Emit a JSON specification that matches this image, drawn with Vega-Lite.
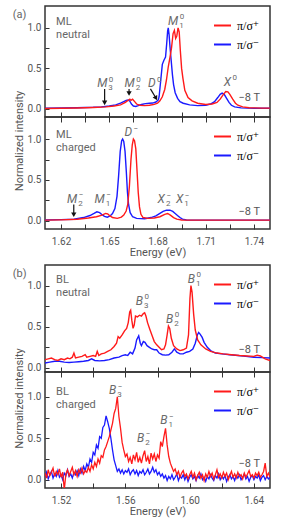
{
"$schema": "https://vega.github.io/schema/vega-lite/v6.json",
"padding": {"left": 12, "top": 5, "right": 5, "bottom": 5},
"vconcat": [
 {"width": 225, "height": 111,
  "encoding": {
   "x": {"field": "E", "type": "quantitative", "scale": {"domain": [1.61, 1.75], "nice": false, "zero": false}, "axis": {"orient": "bottom", "values": [1.62,1.635,1.65,1.665,1.68,1.695,1.71,1.725,1.74], "labels": false, "title": null, "offset": 5, "tickSize": -10}},
   "y": {"field": "I", "type": "quantitative", "scale": {"domain": [-0.1, 1.27], "nice": false, "zero": false}, "axis": {"orient": "left", "values": [0,0.25,0.5,0.75,1], "tickSize": -4, "labelPadding": 8, "labelExpr": "indexof(['0.0','0.5','1.0'], format(datum.value,'.1f')) >= 0 ? format(datum.value,'.1f') : ''", "title": "Normalized intensity", "titleX": -26, "titleY": 134.5, "titleAngle": -90, "titleAlign": "center", "titleBaseline": "middle"}}
  },
  "layer": [
   {"data": {"name": "mln"}, "mark": {"type": "line", "strokeWidth": 1.4, "clip": true},
    "encoding": {"color": {"field": "s", "type": "nominal", "scale": {"domain": ["+", "-"], "range": ["#ff1a1a", "#1a1aff"]}, "legend": {"title": null, "labelExpr": "datum.label == '+' ? 'π/σ⁺' : 'π/σ⁻'"}}}},
   {"data": {"name": "ann1"}, "mark": {"type": "text", "align": "right", "baseline": "alphabetic", "fontStyle": "italic", "fontSize": 12, "color": "#6a6a6a"}, "encoding": {"text": {"field": "b"}}},
   {"data": {"name": "ann1"}, "mark": {"type": "text", "align": "left", "baseline": "alphabetic", "dx": 1.5, "dy": -5.5, "fontSize": 8, "color": "#6a6a6a"}, "encoding": {"text": {"field": "sup"}}},
   {"data": {"name": "ann1"}, "mark": {"type": "text", "align": "left", "baseline": "alphabetic", "dx": 1, "dy": 3, "fontSize": 8, "color": "#6a6a6a"}, "encoding": {"text": {"field": "sub"}}},
   {"data": {"name": "names1"}, "mark": {"type": "text", "align": "left", "baseline": "alphabetic", "fontSize": 11, "lineBreak": "\n", "lineHeight": 13, "color": "#666"}, "encoding": {"text": {"field": "t"}}},
   {"data": {"name": "fld1"}, "mark": {"type": "text", "align": "right", "baseline": "alphabetic", "fontSize": 11, "color": "#555"}, "encoding": {"text": {"field": "t"}}},
   {"data": {"name": "arr1"}, "mark": {"type": "rule", "color": "#111", "strokeWidth": 1.2}, "encoding": {"x2": {"field": "E2"}, "y2": {"field": "I2"}}},
   {"data": {"name": "head1"}, "mark": {"type": "point", "shape": "triangle-down", "filled": true, "color": "#111", "size": 28, "opacity": 1}},
   {"data": {"name": "headD"}, "mark": {"type": "point", "shape": "triangle-down", "filled": true, "color": "#111", "size": 28, "opacity": 1, "angle": -30}}
  ]},
 {"width": 225, "height": 112,
  "encoding": {
   "x": {"field": "E", "type": "quantitative", "scale": {"domain": [1.61, 1.75], "nice": false, "zero": false}, "axis": {"orient": "bottom", "values": [1.62,1.635,1.65,1.665,1.68,1.695,1.71,1.725,1.74], "tickSize": -5, "labelPadding": 12, "labelExpr": "indexof(['1.62','1.65','1.68','1.71','1.74'], format(datum.value,'.2f')) >= 0 ? format(datum.value,'.2f') : ''", "title": "Energy (eV)", "titleY": 26, "titleBaseline": "alphabetic"}},
   "y": {"field": "I", "type": "quantitative", "scale": {"domain": [-0.1, 1.27], "nice": false, "zero": false}, "axis": {"orient": "left", "values": [0,0.25,0.5,0.75,1], "tickSize": -4, "labelPadding": 8, "labelExpr": "indexof(['0.0','0.5','1.0'], format(datum.value,'.1f')) >= 0 ? format(datum.value,'.1f') : ''", "title": null}}
  },
  "layer": [
   {"data": {"name": "mlc"}, "mark": {"type": "line", "strokeWidth": 1.4, "clip": true},
    "encoding": {"color": {"field": "s", "type": "nominal", "scale": {"domain": ["+", "-"], "range": ["#ff1a1a", "#1a1aff"]}, "legend": {"title": null, "labelExpr": "datum.label == '+' ? 'π/σ⁺' : 'π/σ⁻'"}}}},
   {"data": {"name": "ann2"}, "mark": {"type": "text", "align": "right", "baseline": "alphabetic", "fontStyle": "italic", "fontSize": 12, "color": "#6a6a6a"}, "encoding": {"text": {"field": "b"}}},
   {"data": {"name": "ann2"}, "mark": {"type": "text", "align": "left", "baseline": "alphabetic", "dx": 1.5, "dy": -5.5, "fontSize": 8, "color": "#6a6a6a"}, "encoding": {"text": {"field": "sup"}}},
   {"data": {"name": "ann2"}, "mark": {"type": "text", "align": "left", "baseline": "alphabetic", "dx": 1, "dy": 3, "fontSize": 8, "color": "#6a6a6a"}, "encoding": {"text": {"field": "sub"}}},
   {"data": {"name": "names2"}, "mark": {"type": "text", "align": "left", "baseline": "alphabetic", "fontSize": 11, "lineBreak": "\n", "lineHeight": 13, "color": "#666"}, "encoding": {"text": {"field": "t"}}},
   {"data": {"name": "fld2"}, "mark": {"type": "text", "align": "right", "baseline": "alphabetic", "fontSize": 11, "color": "#555"}, "encoding": {"text": {"field": "t"}}},
   {"data": {"name": "arr2"}, "mark": {"type": "rule", "color": "#111", "strokeWidth": 1.2}, "encoding": {"x2": {"field": "E2"}, "y2": {"field": "I2"}}},
   {"data": {"name": "head2"}, "mark": {"type": "point", "shape": "triangle-down", "filled": true, "color": "#111", "size": 28, "opacity": 1}}
  ]},
 {"width": 225, "height": 36, "data": {"values": [{"a": 1}]}, "mark": {"type": "point", "opacity": 0}, "view": {"stroke": null}},
 {"width": 225, "height": 107,
  "encoding": {
   "x": {"field": "E", "type": "quantitative", "scale": {"domain": [1.51, 1.65], "nice": false, "zero": false}, "axis": {"orient": "bottom", "values": [1.52,1.54,1.56,1.58,1.6,1.62,1.64], "labels": false, "title": null, "offset": 5, "tickSize": -10}},
   "y": {"field": "I", "type": "quantitative", "scale": {"domain": [-0.05, 1.25], "nice": false, "zero": false}, "axis": {"orient": "left", "values": [0,0.25,0.5,0.75,1], "tickSize": -4, "labelPadding": 8, "labelExpr": "indexof(['0.0','0.5','1.0'], format(datum.value,'.1f')) >= 0 ? format(datum.value,'.1f') : ''", "title": "Normalized intensity", "titleX": -26, "titleY": 133, "titleAngle": -90, "titleAlign": "center", "titleBaseline": "middle"}}
  },
  "layer": [
   {"data": {"name": "bln"}, "mark": {"type": "line", "strokeWidth": 1.4, "clip": true},
    "encoding": {"color": {"field": "s", "type": "nominal", "scale": {"domain": ["+", "-"], "range": ["#ff1a1a", "#1a1aff"]}, "legend": {"title": null, "labelExpr": "datum.label == '+' ? 'π/σ⁺' : 'π/σ⁻'"}}}},
   {"data": {"name": "ann3"}, "mark": {"type": "text", "align": "right", "baseline": "alphabetic", "fontStyle": "italic", "fontSize": 12, "color": "#6a6a6a"}, "encoding": {"text": {"field": "b"}}},
   {"data": {"name": "ann3"}, "mark": {"type": "text", "align": "left", "baseline": "alphabetic", "dx": 1.5, "dy": -5.5, "fontSize": 8, "color": "#6a6a6a"}, "encoding": {"text": {"field": "sup"}}},
   {"data": {"name": "ann3"}, "mark": {"type": "text", "align": "left", "baseline": "alphabetic", "dx": 1, "dy": 3, "fontSize": 8, "color": "#6a6a6a"}, "encoding": {"text": {"field": "sub"}}},
   {"data": {"name": "names3"}, "mark": {"type": "text", "align": "left", "baseline": "alphabetic", "fontSize": 11, "lineBreak": "\n", "lineHeight": 13, "color": "#666"}, "encoding": {"text": {"field": "t"}}},
   {"data": {"name": "fld3"}, "mark": {"type": "text", "align": "right", "baseline": "alphabetic", "fontSize": 11, "color": "#555"}, "encoding": {"text": {"field": "t"}}}
  ]},
 {"width": 225, "height": 116,
  "encoding": {
   "x": {"field": "E", "type": "quantitative", "scale": {"domain": [1.51, 1.65], "nice": false, "zero": false}, "axis": {"orient": "bottom", "values": [1.52,1.54,1.56,1.58,1.6,1.62,1.64], "tickSize": -5, "labelPadding": 12, "labelExpr": "indexof(['1.52','1.56','1.60','1.64'], format(datum.value,'.2f')) >= 0 ? format(datum.value,'.2f') : ''", "title": "Energy (eV)", "titleY": 26, "titleBaseline": "alphabetic"}},
   "y": {"field": "I", "type": "quantitative", "scale": {"domain": [-0.1, 1.3], "nice": false, "zero": false}, "axis": {"orient": "left", "values": [0,0.25,0.5,0.75,1], "tickSize": -4, "labelPadding": 8, "labelExpr": "indexof(['0.0','0.5','1.0'], format(datum.value,'.1f')) >= 0 ? format(datum.value,'.1f') : ''", "title": null}}
  },
  "layer": [
   {"data": {"name": "blc"}, "mark": {"type": "line", "strokeWidth": 1.3, "clip": true},
    "encoding": {"color": {"field": "s", "type": "nominal", "scale": {"domain": ["+", "-"], "range": ["#ff1a1a", "#1a1aff"]}, "legend": {"title": null, "labelExpr": "datum.label == '+' ? 'π/σ⁺' : 'π/σ⁻'"}}}},
   {"data": {"name": "ann4"}, "mark": {"type": "text", "align": "right", "baseline": "alphabetic", "fontStyle": "italic", "fontSize": 12, "color": "#6a6a6a"}, "encoding": {"text": {"field": "b"}}},
   {"data": {"name": "ann4"}, "mark": {"type": "text", "align": "left", "baseline": "alphabetic", "dx": 1.5, "dy": -5.5, "fontSize": 8, "color": "#6a6a6a"}, "encoding": {"text": {"field": "sup"}}},
   {"data": {"name": "ann4"}, "mark": {"type": "text", "align": "left", "baseline": "alphabetic", "dx": 1, "dy": 3, "fontSize": 8, "color": "#6a6a6a"}, "encoding": {"text": {"field": "sub"}}},
   {"data": {"name": "names4"}, "mark": {"type": "text", "align": "left", "baseline": "alphabetic", "fontSize": 11, "lineBreak": "\n", "lineHeight": 13, "color": "#666"}, "encoding": {"text": {"field": "t"}}},
   {"data": {"name": "fld4"}, "mark": {"type": "text", "align": "right", "baseline": "alphabetic", "fontSize": 11, "color": "#555"}, "encoding": {"text": {"field": "t"}}}
  ]}
],
"spacing": 0,
"bounds": "flush",
"resolve": {"scale": {"color": "independent"}, "legend": {"color": "independent"}},
"config": {
 "font": "Roboto",
 "view": {"stroke": "#333", "strokeWidth": 1.5},
 "text": {"font": "Roboto"},
 "axis": {"domain": false, "grid": false, "tickColor": "#333", "tickWidth": 1, "labelColor": "#555", "labelFont": "Roboto", "labelFontSize": 10, "labelFlush": false, "titleColor": "#555", "titleFont": "Roboto", "titleFontSize": 11, "titleFontWeight": "normal"},
 "legend": {"orient": "top-right", "offset": 10, "padding": 0, "symbolType": "stroke", "symbolSize": 289, "symbolStrokeWidth": 2, "labelFont": "Liberation Serif, DejaVu Serif", "labelFontSize": 12, "labelColor": "#000", "rowPadding": 3, "labelOffset": 5}
},
"datasets": {
 "ann1": [{"E":1.6488,"I":0.27,"b":"M","sub":"3","sup":"0"},{"E":1.6658,"I":0.27,"b":"M","sub":"2","sup":"0"},{"E":1.6788,"I":0.27,"b":"D","sub":"","sup":"0"},{"E":1.6929,"I":1.037,"b":"M","sub":"1","sup":"0"},{"E":1.7258,"I":0.284,"b":"X","sub":"","sup":"0"}],
 "names1": [{"E":1.59,"I":1.123,"t":"(a)"},{"E":1.6169,"I":1.037,"t":"ML\nneutral"}],
 "fld1": [{"E":1.7438,"I":0.099,"t":"−8 T"}],
 "arr1": [{"E":1.6471,"I":0.245,"E2":1.6471,"I2":0.074},{"E":1.6623,"I":0.247,"E2":1.6623,"I2":0.19},{"E":1.6756,"I":0.247,"E2":1.6791,"I2":0.131}],
 "head1": [{"E":1.6471,"I":0.074},{"E":1.6623,"I":0.19}],
 "headD": [{"E":1.6791,"I":0.131}],
 "ann2": [{"E":1.630,"I":0.221,"b":"M","sub":"2","sup":"−"},{"E":1.6471,"I":0.221,"b":"M","sub":"1","sup":"−"},{"E":1.6642,"I":1.037,"b":"D","sub":"","sup":"−"},{"E":1.6846,"I":0.214,"b":"X","sub":"2","sup":"−"},{"E":1.696,"I":0.214,"b":"X","sub":"1","sup":"−"}],
 "names2": [{"E":1.6169,"I":1.017,"t":"ML\ncharged"}],
 "fld2": [{"E":1.7438,"I":0.071,"t":"−8 T"}],
 "arr2": [{"E":1.6279,"I":0.2,"E2":1.6279,"I2":0.075}],
 "head2": [{"E":1.6279,"I":0.075}],
 "ann3": [{"E":1.571,"I":0.77,"b":"B","sub":"3","sup":"0"},{"E":1.5898,"I":0.55,"b":"B","sub":"2","sup":"0"},{"E":1.6033,"I":1.035,"b":"B","sub":"1","sup":"0"}],
 "names3": [{"E":1.49,"I":1.108,"t":"(b)"},{"E":1.5169,"I":1.035,"t":"BL\nneutral"}],
 "fld3": [{"E":1.6438,"I":0.185,"t":"−8 T"}],
 "ann4": [{"E":1.5544,"I":1.031,"b":"B","sub":"3","sup":"−"},{"E":1.5717,"I":0.456,"b":"B","sub":"2","sup":"−"},{"E":1.5862,"I":0.67,"b":"B","sub":"1","sup":"−"}],
 "names4": [{"E":1.5169,"I":1.023,"t":"BL\ncharged"}],
 "fld4": [{"E":1.6438,"I":0.154,"t":"−8 T"}],
 "mln": [
{"E":1.610,"I":0.01,"s":"-"},{"E":1.620,"I":0.012,"s":"-"},{"E":1.630,"I":0.015,"s":"-"},{"E":1.640,"I":0.02,"s":"-"},{"E":1.645,"I":0.025,"s":"-"},{"E":1.650,"I":0.035,"s":"-"},{"E":1.654,"I":0.05,"s":"-"},{"E":1.657,"I":0.07,"s":"-"},{"E":1.659,"I":0.09,"s":"-"},{"E":1.6605,"I":0.105,"s":"-"},{"E":1.6617,"I":0.11,"s":"-"},{"E":1.6628,"I":0.095,"s":"-"},{"E":1.6638,"I":0.06,"s":"-"},{"E":1.665,"I":0.035,"s":"-"},{"E":1.6665,"I":0.03,"s":"-"},{"E":1.668,"I":0.04,"s":"-"},{"E":1.670,"I":0.055,"s":"-"},{"E":1.6725,"I":0.065,"s":"-"},{"E":1.675,"I":0.07,"s":"-"},{"E":1.677,"I":0.072,"s":"-"},{"E":1.679,"I":0.085,"s":"-"},{"E":1.6805,"I":0.11,"s":"-"},{"E":1.681,"I":0.15,"s":"-"},{"E":1.682,"I":0.35,"s":"-"},{"E":1.683,"I":0.55,"s":"-"},{"E":1.684,"I":0.6,"s":"-"},{"E":1.685,"I":0.64,"s":"-"},{"E":1.6857,"I":0.8,"s":"-"},{"E":1.6863,"I":0.96,"s":"-"},{"E":1.6867,"I":1.0,"s":"-"},{"E":1.6872,"I":0.92,"s":"-"},{"E":1.6878,"I":0.76,"s":"-"},{"E":1.6885,"I":0.6,"s":"-"},{"E":1.6893,"I":0.42,"s":"-"},{"E":1.690,"I":0.3,"s":"-"},{"E":1.691,"I":0.2,"s":"-"},{"E":1.6925,"I":0.13,"s":"-"},{"E":1.694,"I":0.09,"s":"-"},{"E":1.696,"I":0.07,"s":"-"},{"E":1.700,"I":0.05,"s":"-"},{"E":1.705,"I":0.04,"s":"-"},{"E":1.710,"I":0.045,"s":"-"},{"E":1.713,"I":0.06,"s":"-"},{"E":1.7155,"I":0.09,"s":"-"},{"E":1.7175,"I":0.14,"s":"-"},{"E":1.719,"I":0.18,"s":"-"},{"E":1.7202,"I":0.195,"s":"-"},{"E":1.7215,"I":0.18,"s":"-"},{"E":1.723,"I":0.13,"s":"-"},{"E":1.7245,"I":0.08,"s":"-"},{"E":1.726,"I":0.045,"s":"-"},{"E":1.728,"I":0.025,"s":"-"},{"E":1.732,"I":0.012,"s":"-"},{"E":1.740,"I":0.008,"s":"-"},{"E":1.750,"I":0.008,"s":"-"},
{"E":1.610,"I":0.005,"s":"+"},{"E":1.620,"I":0.008,"s":"+"},{"E":1.630,"I":0.012,"s":"+"},{"E":1.640,"I":0.018,"s":"+"},{"E":1.648,"I":0.025,"s":"+"},{"E":1.653,"I":0.035,"s":"+"},{"E":1.657,"I":0.05,"s":"+"},{"E":1.660,"I":0.08,"s":"+"},{"E":1.662,"I":0.11,"s":"+"},{"E":1.6628,"I":0.12,"s":"+"},{"E":1.6635,"I":0.105,"s":"+"},{"E":1.6645,"I":0.12,"s":"+"},{"E":1.6658,"I":0.09,"s":"+"},{"E":1.667,"I":0.06,"s":"+"},{"E":1.669,"I":0.045,"s":"+"},{"E":1.672,"I":0.04,"s":"+"},{"E":1.675,"I":0.045,"s":"+"},{"E":1.678,"I":0.055,"s":"+"},{"E":1.680,"I":0.07,"s":"+"},{"E":1.6815,"I":0.1,"s":"+"},{"E":1.683,"I":0.15,"s":"+"},{"E":1.6845,"I":0.24,"s":"+"},{"E":1.6856,"I":0.36,"s":"+"},{"E":1.6867,"I":0.52,"s":"+"},{"E":1.6877,"I":0.63,"s":"+"},{"E":1.6887,"I":0.75,"s":"+"},{"E":1.6897,"I":0.93,"s":"+"},{"E":1.6905,"I":0.97,"s":"+"},{"E":1.6913,"I":0.87,"s":"+"},{"E":1.692,"I":0.9,"s":"+"},{"E":1.6928,"I":1.0,"s":"+"},{"E":1.6935,"I":0.95,"s":"+"},{"E":1.6942,"I":0.72,"s":"+"},{"E":1.695,"I":0.5,"s":"+"},{"E":1.6958,"I":0.38,"s":"+"},{"E":1.697,"I":0.23,"s":"+"},{"E":1.699,"I":0.14,"s":"+"},{"E":1.7015,"I":0.1,"s":"+"},{"E":1.705,"I":0.07,"s":"+"},{"E":1.710,"I":0.055,"s":"+"},{"E":1.714,"I":0.06,"s":"+"},{"E":1.717,"I":0.08,"s":"+"},{"E":1.719,"I":0.12,"s":"+"},{"E":1.721,"I":0.18,"s":"+"},{"E":1.7225,"I":0.215,"s":"+"},{"E":1.7238,"I":0.21,"s":"+"},{"E":1.725,"I":0.18,"s":"+"},{"E":1.7268,"I":0.12,"s":"+"},{"E":1.7285,"I":0.07,"s":"+"},{"E":1.730,"I":0.045,"s":"+"},{"E":1.733,"I":0.025,"s":"+"},{"E":1.737,"I":0.015,"s":"+"},{"E":1.745,"I":0.01,"s":"+"},{"E":1.750,"I":0.01,"s":"+"}],
 "mlc": [
{"E":1.610,"I":0.01,"s":"-"},{"E":1.620,"I":0.015,"s":"-"},{"E":1.628,"I":0.02,"s":"-"},{"E":1.634,"I":0.04,"s":"-"},{"E":1.638,"I":0.065,"s":"-"},{"E":1.6405,"I":0.09,"s":"-"},{"E":1.6423,"I":0.11,"s":"-"},{"E":1.644,"I":0.1,"s":"-"},{"E":1.6455,"I":0.075,"s":"-"},{"E":1.647,"I":0.055,"s":"-"},{"E":1.6488,"I":0.045,"s":"-"},{"E":1.6505,"I":0.06,"s":"-"},{"E":1.652,"I":0.09,"s":"-"},{"E":1.6535,"I":0.15,"s":"-"},{"E":1.6548,"I":0.3,"s":"-"},{"E":1.6558,"I":0.55,"s":"-"},{"E":1.6568,"I":0.85,"s":"-"},{"E":1.6577,"I":0.98,"s":"-"},{"E":1.6583,"I":1.0,"s":"-"},{"E":1.659,"I":0.97,"s":"-"},{"E":1.6598,"I":0.85,"s":"-"},{"E":1.6606,"I":0.6,"s":"-"},{"E":1.6613,"I":0.35,"s":"-"},{"E":1.662,"I":0.2,"s":"-"},{"E":1.663,"I":0.1,"s":"-"},{"E":1.6645,"I":0.05,"s":"-"},{"E":1.667,"I":0.03,"s":"-"},{"E":1.672,"I":0.025,"s":"-"},{"E":1.676,"I":0.04,"s":"-"},{"E":1.679,"I":0.06,"s":"-"},{"E":1.6815,"I":0.09,"s":"-"},{"E":1.6835,"I":0.115,"s":"-"},{"E":1.6856,"I":0.13,"s":"-"},{"E":1.6877,"I":0.13,"s":"-"},{"E":1.6895,"I":0.115,"s":"-"},{"E":1.691,"I":0.09,"s":"-"},{"E":1.6928,"I":0.06,"s":"-"},{"E":1.694,"I":0.04,"s":"-"},{"E":1.6955,"I":0.02,"s":"-"},{"E":1.698,"I":0.01,"s":"-"},{"E":1.710,"I":0.008,"s":"-"},{"E":1.750,"I":0.008,"s":"-"},
{"E":1.610,"I":0.008,"s":"+"},{"E":1.620,"I":0.012,"s":"+"},{"E":1.630,"I":0.02,"s":"+"},{"E":1.637,"I":0.035,"s":"+"},{"E":1.642,"I":0.05,"s":"+"},{"E":1.6455,"I":0.07,"s":"+"},{"E":1.6477,"I":0.09,"s":"+"},{"E":1.649,"I":0.085,"s":"+"},{"E":1.6505,"I":0.06,"s":"+"},{"E":1.652,"I":0.04,"s":"+"},{"E":1.655,"I":0.03,"s":"+"},{"E":1.6575,"I":0.045,"s":"+"},{"E":1.659,"I":0.07,"s":"+"},{"E":1.6605,"I":0.12,"s":"+"},{"E":1.6615,"I":0.2,"s":"+"},{"E":1.6625,"I":0.42,"s":"+"},{"E":1.6635,"I":0.75,"s":"+"},{"E":1.6643,"I":0.93,"s":"+"},{"E":1.665,"I":1.0,"s":"+"},{"E":1.6657,"I":0.98,"s":"+"},{"E":1.6665,"I":0.88,"s":"+"},{"E":1.6673,"I":0.6,"s":"+"},{"E":1.668,"I":0.35,"s":"+"},{"E":1.6688,"I":0.17,"s":"+"},{"E":1.6697,"I":0.08,"s":"+"},{"E":1.671,"I":0.04,"s":"+"},{"E":1.674,"I":0.03,"s":"+"},{"E":1.678,"I":0.035,"s":"+"},{"E":1.6815,"I":0.05,"s":"+"},{"E":1.6845,"I":0.08,"s":"+"},{"E":1.6863,"I":0.09,"s":"+"},{"E":1.688,"I":0.07,"s":"+"},{"E":1.690,"I":0.04,"s":"+"},{"E":1.692,"I":0.02,"s":"+"},{"E":1.695,"I":0.01,"s":"+"},{"E":1.750,"I":0.008,"s":"+"}],
 "bln": [
{"E":1.510,"I":0.06,"s":"-"},{"E":1.513,"I":0.07,"s":"-"},{"E":1.516,"I":0.08,"s":"-"},{"E":1.519,"I":0.08,"s":"-"},{"E":1.522,"I":0.07,"s":"-"},{"E":1.525,"I":0.065,"s":"-"},{"E":1.528,"I":0.07,"s":"-"},{"E":1.531,"I":0.075,"s":"-"},{"E":1.534,"I":0.08,"s":"-"},{"E":1.537,"I":0.09,"s":"-"},{"E":1.539,"I":0.11,"s":"-"},{"E":1.541,"I":0.09,"s":"-"},{"E":1.544,"I":0.085,"s":"-"},{"E":1.547,"I":0.09,"s":"-"},{"E":1.550,"I":0.10,"s":"-"},{"E":1.553,"I":0.12,"s":"-"},{"E":1.556,"I":0.13,"s":"-"},{"E":1.558,"I":0.15,"s":"-"},{"E":1.560,"I":0.16,"s":"-"},{"E":1.5615,"I":0.15,"s":"-"},{"E":1.563,"I":0.19,"s":"-"},{"E":1.5645,"I":0.17,"s":"-"},{"E":1.566,"I":0.24,"s":"-"},{"E":1.567,"I":0.34,"s":"-"},{"E":1.5683,"I":0.39,"s":"-"},{"E":1.5693,"I":0.30,"s":"-"},{"E":1.570,"I":0.27,"s":"-"},{"E":1.5712,"I":0.32,"s":"-"},{"E":1.5722,"I":0.31,"s":"-"},{"E":1.5735,"I":0.27,"s":"-"},{"E":1.575,"I":0.25,"s":"-"},{"E":1.5765,"I":0.23,"s":"-"},{"E":1.578,"I":0.22,"s":"-"},{"E":1.5795,"I":0.22,"s":"-"},{"E":1.581,"I":0.18,"s":"-"},{"E":1.583,"I":0.16,"s":"-"},{"E":1.585,"I":0.155,"s":"-"},{"E":1.587,"I":0.16,"s":"-"},{"E":1.589,"I":0.19,"s":"-"},{"E":1.5905,"I":0.23,"s":"-"},{"E":1.592,"I":0.19,"s":"-"},{"E":1.594,"I":0.17,"s":"-"},{"E":1.596,"I":0.17,"s":"-"},{"E":1.598,"I":0.19,"s":"-"},{"E":1.600,"I":0.20,"s":"-"},{"E":1.602,"I":0.23,"s":"-"},{"E":1.6035,"I":0.30,"s":"-"},{"E":1.6048,"I":0.40,"s":"-"},{"E":1.6056,"I":0.43,"s":"-"},{"E":1.6065,"I":0.41,"s":"-"},{"E":1.6078,"I":0.37,"s":"-"},{"E":1.609,"I":0.31,"s":"-"},{"E":1.611,"I":0.25,"s":"-"},{"E":1.613,"I":0.21,"s":"-"},{"E":1.616,"I":0.18,"s":"-"},{"E":1.620,"I":0.17,"s":"-"},{"E":1.625,"I":0.16,"s":"-"},{"E":1.630,"I":0.15,"s":"-"},{"E":1.635,"I":0.14,"s":"-"},{"E":1.640,"I":0.13,"s":"-"},{"E":1.645,"I":0.125,"s":"-"},{"E":1.650,"I":0.12,"s":"-"},
{"E":1.510,"I":0.10,"s":"+"},{"E":1.512,"I":0.11,"s":"+"},{"E":1.514,"I":0.12,"s":"+"},{"E":1.516,"I":0.10,"s":"+"},{"E":1.518,"I":0.09,"s":"+"},{"E":1.520,"I":0.11,"s":"+"},{"E":1.522,"I":0.10,"s":"+"},{"E":1.524,"I":0.12,"s":"+"},{"E":1.5255,"I":0.11,"s":"+"},{"E":1.527,"I":0.13,"s":"+"},{"E":1.528,"I":0.18,"s":"+"},{"E":1.529,"I":0.12,"s":"+"},{"E":1.531,"I":0.13,"s":"+"},{"E":1.533,"I":0.14,"s":"+"},{"E":1.535,"I":0.16,"s":"+"},{"E":1.536,"I":0.13,"s":"+"},{"E":1.538,"I":0.14,"s":"+"},{"E":1.540,"I":0.15,"s":"+"},{"E":1.5415,"I":0.14,"s":"+"},{"E":1.5425,"I":0.20,"s":"+"},{"E":1.5435,"I":0.15,"s":"+"},{"E":1.545,"I":0.17,"s":"+"},{"E":1.547,"I":0.18,"s":"+"},{"E":1.549,"I":0.20,"s":"+"},{"E":1.551,"I":0.22,"s":"+"},{"E":1.553,"I":0.26,"s":"+"},{"E":1.5545,"I":0.30,"s":"+"},{"E":1.5555,"I":0.38,"s":"+"},{"E":1.5565,"I":0.36,"s":"+"},{"E":1.558,"I":0.40,"s":"+"},{"E":1.5595,"I":0.45,"s":"+"},{"E":1.5608,"I":0.48,"s":"+"},{"E":1.5618,"I":0.55,"s":"+"},{"E":1.5627,"I":0.68,"s":"+"},{"E":1.5633,"I":0.70,"s":"+"},{"E":1.564,"I":0.58,"s":"+"},{"E":1.5648,"I":0.48,"s":"+"},{"E":1.5655,"I":0.52,"s":"+"},{"E":1.5663,"I":0.63,"s":"+"},{"E":1.5675,"I":0.62,"s":"+"},{"E":1.5688,"I":0.64,"s":"+"},{"E":1.570,"I":0.63,"s":"+"},{"E":1.5712,"I":0.66,"s":"+"},{"E":1.572,"I":0.67,"s":"+"},{"E":1.5728,"I":0.63,"s":"+"},{"E":1.5738,"I":0.55,"s":"+"},{"E":1.5752,"I":0.47,"s":"+"},{"E":1.5765,"I":0.40,"s":"+"},{"E":1.578,"I":0.32,"s":"+"},{"E":1.5795,"I":0.28,"s":"+"},{"E":1.581,"I":0.25,"s":"+"},{"E":1.5825,"I":0.22,"s":"+"},{"E":1.584,"I":0.23,"s":"+"},{"E":1.585,"I":0.28,"s":"+"},{"E":1.586,"I":0.40,"s":"+"},{"E":1.5868,"I":0.51,"s":"+"},{"E":1.5876,"I":0.48,"s":"+"},{"E":1.5886,"I":0.36,"s":"+"},{"E":1.590,"I":0.27,"s":"+"},{"E":1.592,"I":0.23,"s":"+"},{"E":1.594,"I":0.21,"s":"+"},{"E":1.596,"I":0.22,"s":"+"},{"E":1.598,"I":0.24,"s":"+"},{"E":1.5993,"I":0.40,"s":"+"},{"E":1.6002,"I":0.85,"s":"+"},{"E":1.6008,"I":1.0,"s":"+"},{"E":1.6015,"I":0.92,"s":"+"},{"E":1.6025,"I":0.65,"s":"+"},{"E":1.6035,"I":0.46,"s":"+"},{"E":1.605,"I":0.34,"s":"+"},{"E":1.607,"I":0.28,"s":"+"},{"E":1.610,"I":0.23,"s":"+"},{"E":1.613,"I":0.20,"s":"+"},{"E":1.617,"I":0.18,"s":"+"},{"E":1.621,"I":0.17,"s":"+"},{"E":1.626,"I":0.16,"s":"+"},{"E":1.631,"I":0.15,"s":"+"},{"E":1.636,"I":0.145,"s":"+"},{"E":1.640,"I":0.14,"s":"+"},{"E":1.642,"I":0.155,"s":"+"},{"E":1.644,"I":0.145,"s":"+"},{"E":1.647,"I":0.11,"s":"+"},{"E":1.650,"I":0.09,"s":"+"}],
 "blc": [
{"E":1.510,"I":0.03,"s":"-"},{"E":1.511,"I":0.09,"s":"-"},{"E":1.512,"I":0.01,"s":"-"},{"E":1.513,"I":0.06,"s":"-"},{"E":1.514,"I":0.10,"s":"-"},{"E":1.515,"I":0.02,"s":"-"},{"E":1.516,"I":0.07,"s":"-"},{"E":1.517,"I":0.04,"s":"-"},{"E":1.518,"I":0.11,"s":"-"},{"E":1.519,"I":0.03,"s":"-"},{"E":1.520,"I":0.06,"s":"-"},{"E":1.521,"I":0.00,"s":"-"},{"E":1.522,"I":0.08,"s":"-"},{"E":1.523,"I":0.05,"s":"-"},{"E":1.524,"I":0.12,"s":"-"},{"E":1.525,"I":0.04,"s":"-"},{"E":1.526,"I":0.07,"s":"-"},{"E":1.527,"I":0.02,"s":"-"},{"E":1.528,"I":0.09,"s":"-"},{"E":1.529,"I":0.06,"s":"-"},{"E":1.530,"I":0.11,"s":"-"},{"E":1.531,"I":0.05,"s":"-"},{"E":1.532,"I":0.13,"s":"-"},{"E":1.533,"I":0.08,"s":"-"},{"E":1.534,"I":0.16,"s":"-"},{"E":1.535,"I":0.11,"s":"-"},{"E":1.536,"I":0.19,"s":"-"},{"E":1.537,"I":0.15,"s":"-"},{"E":1.538,"I":0.25,"s":"-"},{"E":1.539,"I":0.21,"s":"-"},{"E":1.540,"I":0.33,"s":"-"},{"E":1.541,"I":0.30,"s":"-"},{"E":1.542,"I":0.42,"s":"-"},{"E":1.543,"I":0.38,"s":"-"},{"E":1.544,"I":0.52,"s":"-"},{"E":1.545,"I":0.50,"s":"-"},{"E":1.546,"I":0.63,"s":"-"},{"E":1.547,"I":0.66,"s":"-"},{"E":1.548,"I":0.77,"s":"-"},{"E":1.549,"I":0.70,"s":"-"},{"E":1.550,"I":0.62,"s":"-"},{"E":1.551,"I":0.50,"s":"-"},{"E":1.552,"I":0.36,"s":"-"},{"E":1.553,"I":0.24,"s":"-"},{"E":1.554,"I":0.17,"s":"-"},{"E":1.555,"I":0.10,"s":"-"},{"E":1.556,"I":0.13,"s":"-"},{"E":1.557,"I":0.08,"s":"-"},{"E":1.558,"I":0.12,"s":"-"},{"E":1.559,"I":0.07,"s":"-"},{"E":1.560,"I":0.11,"s":"-"},{"E":1.561,"I":0.09,"s":"-"},{"E":1.562,"I":0.13,"s":"-"},{"E":1.563,"I":0.06,"s":"-"},{"E":1.564,"I":0.10,"s":"-"},{"E":1.565,"I":0.12,"s":"-"},{"E":1.566,"I":0.07,"s":"-"},{"E":1.567,"I":0.11,"s":"-"},{"E":1.568,"I":0.05,"s":"-"},{"E":1.569,"I":0.10,"s":"-"},{"E":1.570,"I":0.08,"s":"-"},{"E":1.571,"I":0.12,"s":"-"},{"E":1.572,"I":0.06,"s":"-"},{"E":1.573,"I":0.09,"s":"-"},{"E":1.574,"I":0.13,"s":"-"},{"E":1.575,"I":0.07,"s":"-"},{"E":1.576,"I":0.10,"s":"-"},{"E":1.577,"I":0.15,"s":"-"},{"E":1.578,"I":0.09,"s":"-"},{"E":1.579,"I":0.12,"s":"-"},{"E":1.580,"I":0.06,"s":"-"},{"E":1.581,"I":0.09,"s":"-"},{"E":1.582,"I":0.04,"s":"-"},{"E":1.583,"I":0.07,"s":"-"},{"E":1.584,"I":0.02,"s":"-"},{"E":1.585,"I":0.05,"s":"-"},{"E":1.586,"I":-0.01,"s":"-"},{"E":1.587,"I":0.04,"s":"-"},{"E":1.588,"I":0.01,"s":"-"},{"E":1.589,"I":0.06,"s":"-"},{"E":1.590,"I":0.00,"s":"-"},{"E":1.591,"I":0.03,"s":"-"},{"E":1.592,"I":0.07,"s":"-"},{"E":1.593,"I":-0.01,"s":"-"},{"E":1.594,"I":0.04,"s":"-"},{"E":1.595,"I":0.02,"s":"-"},{"E":1.596,"I":0.06,"s":"-"},{"E":1.597,"I":0.00,"s":"-"},{"E":1.598,"I":0.05,"s":"-"},{"E":1.599,"I":-0.02,"s":"-"},{"E":1.600,"I":0.03,"s":"-"},{"E":1.601,"I":0.06,"s":"-"},{"E":1.602,"I":0.01,"s":"-"},{"E":1.603,"I":0.04,"s":"-"},{"E":1.604,"I":-0.01,"s":"-"},{"E":1.605,"I":0.05,"s":"-"},{"E":1.606,"I":0.02,"s":"-"},{"E":1.607,"I":0.07,"s":"-"},{"E":1.608,"I":0.00,"s":"-"},{"E":1.609,"I":0.03,"s":"-"},{"E":1.610,"I":-0.02,"s":"-"},{"E":1.611,"I":0.04,"s":"-"},{"E":1.612,"I":0.01,"s":"-"},{"E":1.613,"I":0.06,"s":"-"},{"E":1.614,"I":0.02,"s":"-"},{"E":1.615,"I":-0.01,"s":"-"},{"E":1.616,"I":0.05,"s":"-"},{"E":1.617,"I":0.02,"s":"-"},{"E":1.618,"I":0.07,"s":"-"},{"E":1.619,"I":0.00,"s":"-"},{"E":1.620,"I":0.04,"s":"-"},{"E":1.621,"I":0.01,"s":"-"},{"E":1.622,"I":0.05,"s":"-"},{"E":1.623,"I":-0.02,"s":"-"},{"E":1.624,"I":0.03,"s":"-"},{"E":1.625,"I":0.06,"s":"-"},{"E":1.626,"I":0.01,"s":"-"},{"E":1.627,"I":0.04,"s":"-"},{"E":1.628,"I":-0.01,"s":"-"},{"E":1.629,"I":0.05,"s":"-"},{"E":1.630,"I":0.02,"s":"-"},{"E":1.631,"I":0.06,"s":"-"},{"E":1.632,"I":0.00,"s":"-"},{"E":1.633,"I":0.03,"s":"-"},{"E":1.634,"I":0.07,"s":"-"},{"E":1.635,"I":0.01,"s":"-"},{"E":1.636,"I":0.04,"s":"-"},{"E":1.637,"I":-0.02,"s":"-"},{"E":1.638,"I":0.03,"s":"-"},{"E":1.639,"I":0.05,"s":"-"},{"E":1.640,"I":0.00,"s":"-"},{"E":1.641,"I":0.04,"s":"-"},{"E":1.642,"I":0.02,"s":"-"},{"E":1.643,"I":0.06,"s":"-"},{"E":1.644,"I":-0.01,"s":"-"},{"E":1.645,"I":0.03,"s":"-"},{"E":1.646,"I":0.05,"s":"-"},{"E":1.647,"I":0.00,"s":"-"},{"E":1.648,"I":0.04,"s":"-"},{"E":1.649,"I":0.01,"s":"-"},{"E":1.650,"I":0.03,"s":"-"},
{"E":1.510,"I":0.08,"s":"+"},{"E":1.511,"I":0.02,"s":"+"},{"E":1.512,"I":0.12,"s":"+"},{"E":1.513,"I":0.05,"s":"+"},{"E":1.514,"I":0.09,"s":"+"},{"E":1.515,"I":0.14,"s":"+"},{"E":1.516,"I":0.04,"s":"+"},{"E":1.517,"I":0.10,"s":"+"},{"E":1.518,"I":0.06,"s":"+"},{"E":1.519,"I":0.13,"s":"+"},{"E":1.520,"I":0.03,"s":"+"},{"E":1.521,"I":0.09,"s":"+"},{"E":1.522,"I":-0.12,"s":"+"},{"E":1.523,"I":0.07,"s":"+"},{"E":1.524,"I":0.12,"s":"+"},{"E":1.525,"I":0.05,"s":"+"},{"E":1.526,"I":0.10,"s":"+"},{"E":1.527,"I":0.15,"s":"+"},{"E":1.528,"I":0.06,"s":"+"},{"E":1.529,"I":0.11,"s":"+"},{"E":1.530,"I":0.04,"s":"+"},{"E":1.531,"I":0.12,"s":"+"},{"E":1.532,"I":0.08,"s":"+"},{"E":1.533,"I":0.14,"s":"+"},{"E":1.534,"I":0.07,"s":"+"},{"E":1.535,"I":0.11,"s":"+"},{"E":1.536,"I":0.09,"s":"+"},{"E":1.537,"I":0.15,"s":"+"},{"E":1.538,"I":0.10,"s":"+"},{"E":1.539,"I":0.18,"s":"+"},{"E":1.540,"I":0.13,"s":"+"},{"E":1.541,"I":0.21,"s":"+"},{"E":1.542,"I":0.16,"s":"+"},{"E":1.543,"I":0.25,"s":"+"},{"E":1.544,"I":0.20,"s":"+"},{"E":1.545,"I":0.29,"s":"+"},{"E":1.546,"I":0.27,"s":"+"},{"E":1.547,"I":0.36,"s":"+"},{"E":1.548,"I":0.40,"s":"+"},{"E":1.549,"I":0.46,"s":"+"},{"E":1.550,"I":0.52,"s":"+"},{"E":1.551,"I":0.60,"s":"+"},{"E":1.552,"I":0.68,"s":"+"},{"E":1.553,"I":0.80,"s":"+"},{"E":1.554,"I":0.86,"s":"+"},{"E":1.555,"I":1.0,"s":"+"},{"E":1.556,"I":0.76,"s":"+"},{"E":1.557,"I":0.62,"s":"+"},{"E":1.558,"I":0.45,"s":"+"},{"E":1.559,"I":0.36,"s":"+"},{"E":1.560,"I":0.28,"s":"+"},{"E":1.561,"I":0.31,"s":"+"},{"E":1.562,"I":0.22,"s":"+"},{"E":1.563,"I":0.27,"s":"+"},{"E":1.564,"I":0.19,"s":"+"},{"E":1.565,"I":0.30,"s":"+"},{"E":1.566,"I":0.24,"s":"+"},{"E":1.567,"I":0.33,"s":"+"},{"E":1.568,"I":0.21,"s":"+"},{"E":1.569,"I":0.27,"s":"+"},{"E":1.570,"I":0.20,"s":"+"},{"E":1.571,"I":0.29,"s":"+"},{"E":1.572,"I":0.35,"s":"+"},{"E":1.573,"I":0.22,"s":"+"},{"E":1.574,"I":0.28,"s":"+"},{"E":1.575,"I":0.19,"s":"+"},{"E":1.576,"I":0.32,"s":"+"},{"E":1.577,"I":0.25,"s":"+"},{"E":1.578,"I":0.31,"s":"+"},{"E":1.579,"I":0.22,"s":"+"},{"E":1.580,"I":0.30,"s":"+"},{"E":1.581,"I":0.26,"s":"+"},{"E":1.582,"I":0.46,"s":"+"},{"E":1.583,"I":0.40,"s":"+"},{"E":1.584,"I":0.52,"s":"+"},{"E":1.585,"I":0.62,"s":"+"},{"E":1.586,"I":0.42,"s":"+"},{"E":1.587,"I":0.28,"s":"+"},{"E":1.588,"I":0.20,"s":"+"},{"E":1.589,"I":0.15,"s":"+"},{"E":1.590,"I":0.10,"s":"+"},{"E":1.591,"I":0.13,"s":"+"},{"E":1.592,"I":0.06,"s":"+"},{"E":1.593,"I":0.10,"s":"+"},{"E":1.594,"I":0.03,"s":"+"},{"E":1.595,"I":0.08,"s":"+"},{"E":1.596,"I":0.11,"s":"+"},{"E":1.597,"I":0.04,"s":"+"},{"E":1.598,"I":0.07,"s":"+"},{"E":1.599,"I":0.01,"s":"+"},{"E":1.600,"I":0.06,"s":"+"},{"E":1.601,"I":0.10,"s":"+"},{"E":1.602,"I":0.03,"s":"+"},{"E":1.603,"I":0.08,"s":"+"},{"E":1.604,"I":0.00,"s":"+"},{"E":1.605,"I":0.05,"s":"+"},{"E":1.606,"I":0.09,"s":"+"},{"E":1.607,"I":0.02,"s":"+"},{"E":1.608,"I":0.06,"s":"+"},{"E":1.609,"I":-0.01,"s":"+"},{"E":1.610,"I":0.07,"s":"+"},{"E":1.611,"I":0.03,"s":"+"},{"E":1.612,"I":0.10,"s":"+"},{"E":1.613,"I":0.04,"s":"+"},{"E":1.614,"I":0.08,"s":"+"},{"E":1.615,"I":0.01,"s":"+"},{"E":1.616,"I":0.06,"s":"+"},{"E":1.617,"I":0.12,"s":"+"},{"E":1.618,"I":0.03,"s":"+"},{"E":1.619,"I":0.07,"s":"+"},{"E":1.620,"I":0.02,"s":"+"},{"E":1.621,"I":0.09,"s":"+"},{"E":1.622,"I":0.04,"s":"+"},{"E":1.623,"I":0.08,"s":"+"},{"E":1.624,"I":0.00,"s":"+"},{"E":1.625,"I":0.05,"s":"+"},{"E":1.626,"I":0.10,"s":"+"},{"E":1.627,"I":0.03,"s":"+"},{"E":1.628,"I":0.07,"s":"+"},{"E":1.629,"I":0.02,"s":"+"},{"E":1.630,"I":0.09,"s":"+"},{"E":1.631,"I":0.04,"s":"+"},{"E":1.632,"I":0.06,"s":"+"},{"E":1.633,"I":0.01,"s":"+"},{"E":1.634,"I":0.08,"s":"+"},{"E":1.635,"I":0.03,"s":"+"},{"E":1.636,"I":0.07,"s":"+"},{"E":1.637,"I":0.11,"s":"+"},{"E":1.638,"I":0.04,"s":"+"},{"E":1.639,"I":0.06,"s":"+"},{"E":1.640,"I":0.02,"s":"+"},{"E":1.641,"I":0.08,"s":"+"},{"E":1.642,"I":0.05,"s":"+"},{"E":1.643,"I":0.09,"s":"+"},{"E":1.644,"I":0.03,"s":"+"},{"E":1.645,"I":0.06,"s":"+"},{"E":1.646,"I":0.10,"s":"+"},{"E":1.647,"I":0.20,"s":"+"},{"E":1.648,"I":0.04,"s":"+"},{"E":1.649,"I":0.08,"s":"+"},{"E":1.650,"I":0.03,"s":"+"}]
}
}
